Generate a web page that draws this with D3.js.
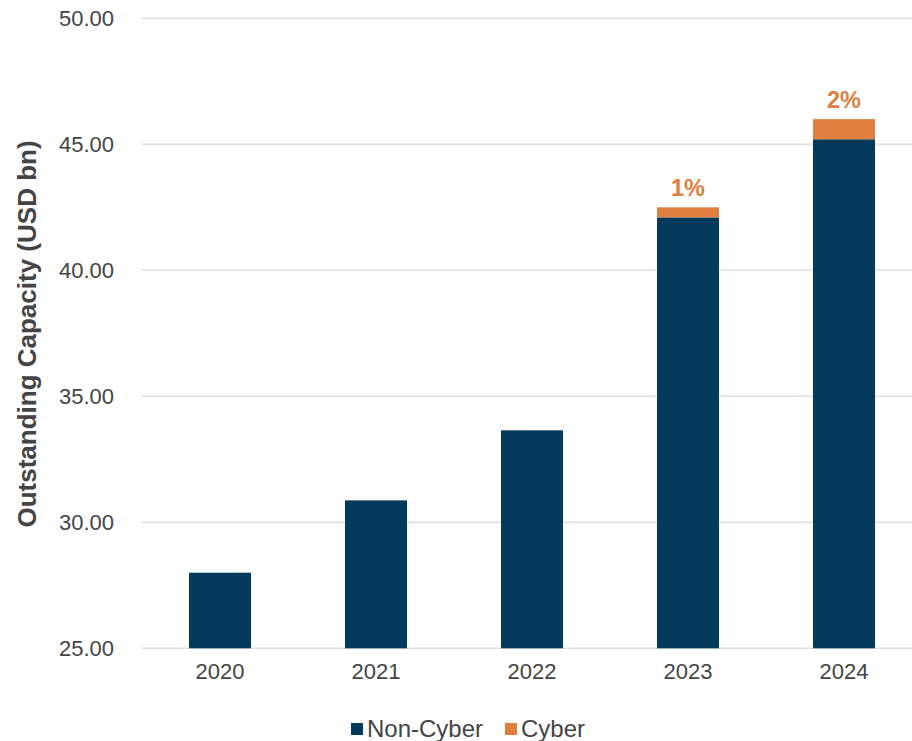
<!DOCTYPE html>
<html>
<head>
<meta charset="utf-8">
<script src="https://cdn.jsdelivr.net/npm/d3@7"></script>
<style>
  html, body { margin: 0; padding: 0; background: #fff; }
  svg { display: block; font-family: "Liberation Sans", Arial, sans-serif; }
</style>
</head>
<body>
<svg id="chart" width="912" height="741"></svg>
<script>
const years = ["2020", "2021", "2022", "2023", "2024"];
const nonCyber = [28.0, 30.87, 33.65, 42.1, 45.2];
const cyber = [0, 0, 0, 0.4, 0.8];
const cyberLabels = ["", "", "", "1%", "2%"];
const yTicks = [25, 30, 35, 40, 45, 50];
const seriesNames = ["Non-Cyber", "Cyber"];
const colors = ["#033a5c", "#e07f3e"];

const svg = d3.select("#chart");
const plotLeft = 142, plotRight = 922, plotTop = 18.3, plotBottom = 648.3;

const x = d3.scaleBand().domain(years).range([plotLeft, plotRight]).paddingInner(0.6).paddingOuter(0.3);
const y = d3.scaleLinear().domain([25, 50]).range([plotBottom, plotTop]);

// gridlines
svg.append("g").selectAll("line").data(yTicks).join("line")
  .attr("x1", plotLeft).attr("x2", 912)
  .attr("y1", d => y(d)).attr("y2", d => y(d))
  .attr("stroke", "#dedede").attr("stroke-width", 1.5);

// y axis labels
const yAxis = d3.axisLeft(y).tickValues(yTicks).tickFormat(d3.format(".2f")).tickSize(0).tickPadding(28);
const gy = svg.append("g").attr("transform", `translate(${plotLeft},0)`).call(yAxis);
gy.select(".domain").remove();
gy.selectAll("text").attr("font-size", 22).attr("fill", "#444").attr("font-family", "Liberation Sans, Arial, sans-serif");

// x axis labels
const xAxis = d3.axisBottom(x).tickSize(0).tickPadding(15);
const gx = svg.append("g").attr("transform", `translate(0,${plotBottom})`).call(xAxis);
gx.select(".domain").remove();
gx.selectAll("text").attr("font-size", 22).attr("fill", "#444").attr("font-family", "Liberation Sans, Arial, sans-serif");

// stacked bars
const data = years.map((yr, i) => ({ year: yr, nonCyber: nonCyber[i], cyber: cyber[i], label: cyberLabels[i] }));
const stack = d3.stack().keys(["nonCyber", "cyber"]);
const stacked = stack(data);
const barW = 62;
svg.append("g").selectAll("g").data(stacked).join("g")
  .attr("fill", (d, i) => colors[i])
  .selectAll("rect").data(d => d.filter(p => p[1] - p[0] > 0)).join("rect")
  .attr("x", d => x(d.data.year) + x.bandwidth() / 2 - barW / 2)
  .attr("width", barW)
  .attr("y", d => y(Math.max(d[1], 25)))
  .attr("height", d => y(Math.max(d[0], 25)) - y(d[1]));

// percentage labels
svg.append("g").selectAll("text").data(data.filter(d => d.label)).join("text")
  .attr("x", d => x(d.year) + x.bandwidth() / 2)
  .attr("y", d => y(d.nonCyber + d.cyber) - 11)
  .attr("text-anchor", "middle")
  .attr("font-size", 23.5).attr("font-weight", "bold")
  .attr("fill", colors[1])
  .text(d => d.label);

// y title
svg.append("text")
  .attr("transform", `translate(36,334) rotate(-90)`)
  .attr("text-anchor", "middle")
  .attr("font-size", 26).attr("font-weight", "bold").attr("fill", "#444")
  .text("Outstanding Capacity (USD bn)");

// legend
const legendItems = [{ name: seriesNames[0], color: colors[0], x: 351 }, { name: seriesNames[1], color: colors[1], x: 505 }];
const lg = svg.append("g").selectAll("g").data(legendItems).join("g")
  .attr("transform", d => `translate(${d.x},723)`);
lg.append("rect").attr("width", 12).attr("height", 12).attr("fill", d => d.color);
lg.append("text").attr("x", 16).attr("y", 6).attr("dy", "0.35em")
  .attr("font-size", 24).attr("fill", "#444").text(d => d.name);
</script>
</body>
</html>
